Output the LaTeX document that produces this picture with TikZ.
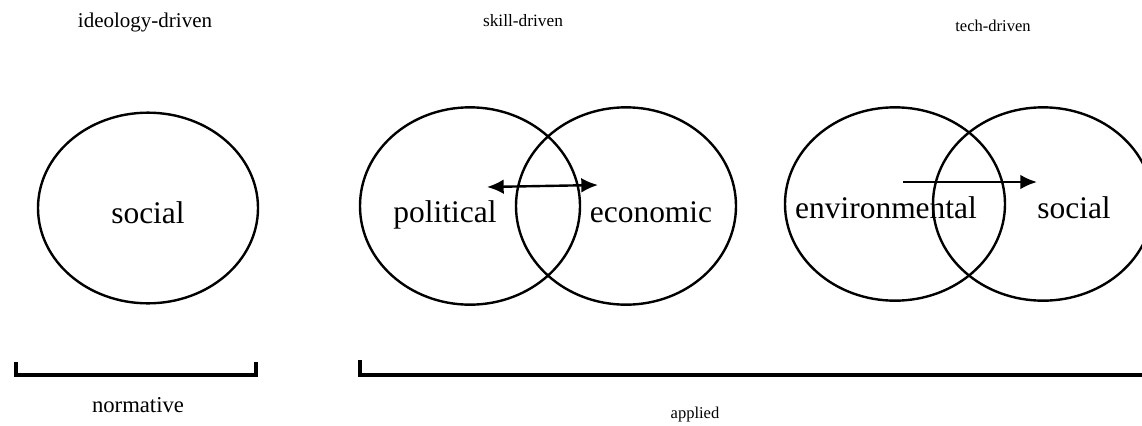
\documentclass[tikz,border=0pt]{standalone}
\usepackage{fontspec}
\setmainfont{Liberation Serif}
\usetikzlibrary{shapes.geometric,arrows.meta}

\begin{document}
\begin{tikzpicture}[x=0.75pt, y=-0.75pt,
    ring/.style={draw, ellipse, line width=1.8pt, inner sep=0pt, minimum width=165pt},
    big/.style={font=\fontsize{23.6}{28}\selectfont, inner sep=0pt, anchor=base},
    small/.style={font=\fontsize{#1}{19}\selectfont, inner sep=0pt, anchor=base},
    bracket/.style={line width=2.5pt},
    arr/.style={line width=1.8pt, >={Latex[length=12.5pt,width=11pt]}}]
  \useasboundingbox (0,0) rectangle (1142,425);

  % top labels
  \node[small=15.75] (ideo) at (145,27) {ideology-driven};
  \node[small=13] (skill) at (523,26) {skill-driven};
  \node[small=12.4] (tech) at (993,31) {tech-driven};

  % circles
  \node[ring, minimum height=143pt] (soc1) at (148,208) {};
  \node[ring, minimum height=148pt] (pol) at (470,206) {};
  \node[ring, minimum height=148pt] (eco) at (626,206) {};
  \node[ring, minimum height=145pt] (env) at (895,204) {};
  \node[ring, minimum height=145pt] (soc2) at (1043,204) {};

  \node[big] (tsoc1) at (148,223) {social};
  \node[big] (tpol) at (445,222) {political};
  \node[big] (teco) at (651,222) {economic};
  \node[big] (tenv) at (886,218) {environmental};
  \node[big] (tsoc2) at (1074,218) {social};

  % arrows
  \coordinate (pe1) at (487,187);
  \coordinate (pe2) at (598,185);
  \coordinate (es1) at (903,182);
  \coordinate (es2) at (1037,182);
  \draw[arr, <->] (pe1) -- (pe2);
  \draw[arr, ->] (es1) -- (es2);

  % brackets
  \draw[bracket] (16,362) -- (16,375) -- (256,375) -- (256,362);
  \draw[bracket] (360,360) -- (360,375) -- (1150,375);

  \node[small=17] (norm) at (138,412) {normative};
  \node[small=12.4] (appl) at (695,418) {applied};
\end{tikzpicture}
\end{document}
